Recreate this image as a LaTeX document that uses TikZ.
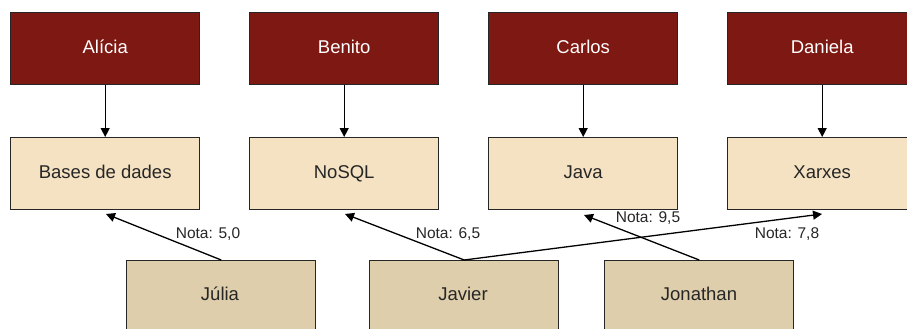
\documentclass[tikz,border=0pt]{standalone}
\usepackage{fontspec}
\setmainfont{Liberation Sans}
\usetikzlibrary{arrows.meta}
\definecolor{teacher}{HTML}{7E1812}
\definecolor{subject}{HTML}{F5E2C2}
\definecolor{student}{HTML}{DECEAB}
\definecolor{edge}{HTML}{262626}
\begin{document}
\begin{tikzpicture}[x=1pt,y=-1pt,
  box/.style={draw=edge,line width=1.4pt,minimum width=189pt,minimum height=72pt,inner sep=0pt,anchor=north west,
    text height=13.5pt,text depth=4pt,font=\fontsize{18.5}{22}\selectfont},
  teacherbox/.style={box,fill=teacher,text=white},
  subjectbox/.style={box,fill=subject,text=black!85},
  studentbox/.style={box,fill=student,text=black!85},
  studlabel/.style={font=\fontsize{18.5}{22}\selectfont,text=black!85,text height=13.5pt,text depth=4pt},
  link/.style={draw=black,line width=1.3pt,-{Triangle[width=9pt,length=9pt]}},
  grade/.style={font=\fontsize{15.5}{18}\selectfont,text=black!85,inner sep=0pt}]
\useasboundingbox (0,0) rectangle (907,329);
\clip (0,0) rectangle (907,329);
% teachers
\node[teacherbox] (ali) at (10,12) {Alícia};
\node[teacherbox] (ben) at (249,12) {Benito};
\node[teacherbox] (car) at (488,12) {Carlos};
\node[teacherbox] (dan) at (727,12) {Daniela};
% subjects
\node[subjectbox] (bd) at (10,137) {Bases de dades};
\node[subjectbox] (nosql) at (249,137) {NoSQL};
\node[subjectbox] (java) at (488,137) {Java};
\node[subjectbox] (xar) at (727,137) {Xarxes};
% students (boxes run past the lower edge)
\node[studentbox] (jul) at (126,260) {};
\node[studentbox] (jav) at (369,260) {};
\node[studentbox] (jon) at (604,260) {};
\node[studlabel] (jult) at (220,296) {Júlia};
\node[studlabel] (javt) at (463,296) {Javier};
\node[studlabel] (jont) at (699,296) {Jonathan};
% teacher -> subject
\draw[link] (ali.south) -- (bd.north);
\draw[link] (ben.south) -- (nosql.north);
\draw[link] (car.south) -- (java.north);
\draw[link] (dan.south) -- (xar.north);
% student -> subject, with grades
\coordinate (tbd) at (106,214);
\coordinate (tnosql) at (345,214);
\coordinate (tjava) at (584,215);
\coordinate (txar) at (822,214);
\draw[link] (jul.north) -- (tbd);
\draw[link] (jav.north) -- (tnosql);
\draw[link] (jav.north) -- (txar);
\draw[link] (jon.north) -- (tjava);
\node[grade] (g1) at (208,234) {Nota: 5,0};
\node[grade] (g2) at (448,234) {Nota: 6,5};
\node[grade] (g3) at (648,218) {Nota: 9,5};
\node[grade] (g4) at (787,234) {Nota: 7,8};
\end{tikzpicture}
\end{document}
